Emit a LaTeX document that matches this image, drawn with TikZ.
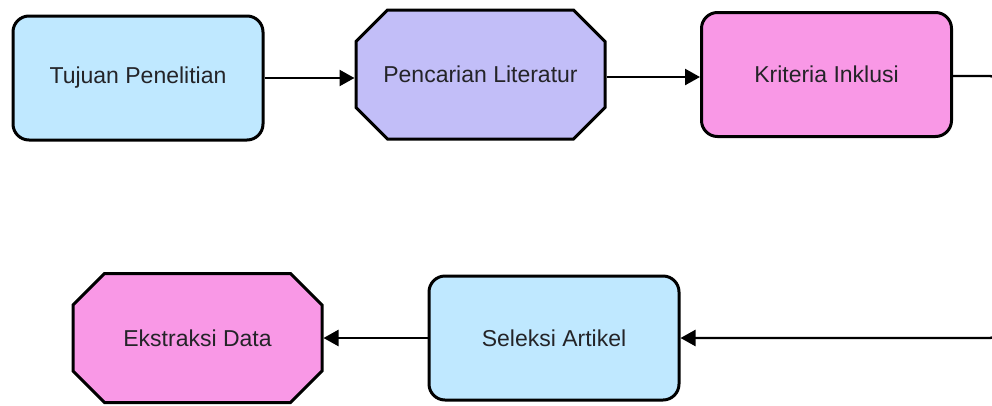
\documentclass[tikz,border=0pt]{standalone}
\usepackage{fontspec}
\setmainfont{Liberation Sans}
\usetikzlibrary{shapes.misc,arrows.meta}
\definecolor{skyfill}{RGB}{191,232,255}
\definecolor{lilacfill}{RGB}{194,190,248}
\definecolor{pinkfill}{RGB}{249,152,230}
\definecolor{txtgray}{RGB}{36,36,40}
\begin{document}
\begin{tikzpicture}[x=1pt,y=-1pt,
  roundbox/.style={draw=black,line width=3pt,rounded corners=16pt,minimum width=250pt,minimum height=124pt,
    text=txtgray,font=\fontsize{23}{26}\selectfont},
  cutbox/.style={draw=black,line width=3pt,chamfered rectangle,chamfered rectangle xsep=25pt,chamfered rectangle ysep=23pt,
    minimum width=249pt,minimum height=129pt,inner sep=0pt,text=txtgray,font=\fontsize{23}{26}\selectfont},
  flow/.style={line width=2.4pt,-{Triangle[length=15pt,width=16pt]}}]
\useasboundingbox (0,0) rectangle (992,405);
\clip (0,0) rectangle (992,405);

% top row
\node[roundbox,fill=skyfill] (tujuan) at (138,78) {Tujuan Penelitian};
\node[cutbox,fill=lilacfill] (pencarian) at (480.5,74.5) {Pencarian Literatur};
\node[roundbox,fill=pinkfill] (kriteria) at (826.5,74.5) {Kriteria Inklusi};

% bottom row
\node[roundbox,fill=skyfill] (seleksi) at (554,338) {Seleksi Artikel};
\node[cutbox,fill=pinkfill] (ekstraksi) at (197.5,338) {Ekstraksi Data};

\coordinate (turnA) at (998,76);
\coordinate (turnB) at (998,338);

\draw[flow] (tujuan.east) -- (tujuan.east -| pencarian.west);
\draw[flow] (pencarian.east |- 0,77) -- (kriteria.west |- 0,77);
\draw[flow,rounded corners=8pt] (kriteria.east |- turnA) -- (turnA) -- (turnB) -- (seleksi.east |- turnB);
\draw[flow] (seleksi.west) -- (ekstraksi.east);
\end{tikzpicture}
\end{document}
